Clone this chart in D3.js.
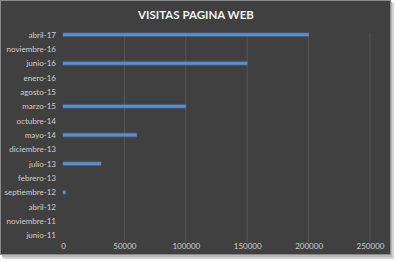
<!DOCTYPE html>
<html>
<head>
<meta charset="utf-8">
<script src="https://cdn.jsdelivr.net/npm/d3@7"></script>
<style>
  body { margin: 0; background: #fff; }
  text { font-family: Lato, "Open Sans", sans-serif; }
</style>
</head>
<body>
<div id="graphic"></div>
<script>
// categories top to bottom, as in the picture
var categories = ['abril-17', 'noviembre-16', 'junio-16', 'enero-16', 'agosto-15',
	'marzo-15', 'octubre-14', 'mayo-14', 'diciembre-13', 'julio-13', 'febrero-13',
	'septiembre-12', 'abril-12', 'noviembre-11', 'junio-11'];
var visitas = [200000, 0, 150000, 0, 0, 100000, 0, 60000, 0, 31000, 0, 2000, 0, 0, 0];
var xTicks = [0, 50000, 100000, 150000, 200000, 250000];
var title = 'VISITAS PAGINA WEB';

var width = 396, height = 262;
var margins = {top: 28, right: 26, bottom: 20, left: 63};
var chartWidth = 370 - margins.left;

var svg = d3.select('#graphic').append('svg')
	.attr('width', width)
	.attr('height', height);

// shadow + frame
svg.append('rect').attr('x', 3).attr('y', 3).attr('width', 391).attr('height', 256)
	.attr('fill', '#d4d4d4');
svg.append('rect').attr('x', 2).attr('y', 2).attr('width', 390).attr('height', 255)
	.attr('fill', '#b8b8b8');
svg.append('rect').attr('x', 0.5).attr('y', 0.5).attr('width', 390).attr('height', 254)
	.attr('fill', '#404040').attr('stroke', '#8c8c8c');

svg.append('text')
	.attr('x', 196).attr('y', 19)
	.attr('text-anchor', 'middle')
	.attr('fill', '#f2f2f2')
	.style('font-size', '11.5px')
	.style('font-weight', 'bold')
	.text(title);

var x = d3.scaleLinear().domain([0, 250000]).range([margins.left, margins.left + chartWidth]);
var y = d3.scaleBand().domain(categories).range([28, 243]);

// gridlines
svg.append('g').selectAll('line')
	.data(xTicks.slice(1)).enter()
	.append('line')
	.attr('x1', function(d) { return x(d); })
	.attr('x2', function(d) { return x(d); })
	.attr('y1', 33).attr('y2', 242)
	.attr('stroke', '#555555')
	.attr('stroke-width', 1);

// x axis labels
var xAxis = svg.append('g')
	.attr('transform', 'translate(0,240)')
	.call(d3.axisBottom(x).tickValues(xTicks).tickSize(0).tickPadding(3).tickFormat(d3.format('d')));
xAxis.select('.domain').remove();
xAxis.selectAll('text').attr('fill', '#d0d0d0').style('font-size', '8px')
	.style('font-family', 'Lato, sans-serif');

// y axis labels
var yAxis = svg.append('g')
	.attr('transform', 'translate(' + (margins.left - 7) + ',0)')
	.call(d3.axisLeft(y).tickSize(0).tickPadding(0));
yAxis.select('.domain').remove();
yAxis.selectAll('text').attr('fill', '#d0d0d0').style('font-size', '8px')
	.style('font-family', 'Lato, sans-serif');

// bars (thin, with a soft glow)
var barData = categories.map(function(c, i) { return {cat: c, v: visitas[i]}; })
	.filter(function(d) { return d.v > 0; });

var bars = svg.append('g');
bars.selectAll('rect.glow')
	.data(barData).enter()
	.append('rect')
	.attr('class', 'glow')
	.attr('x', x(0) - 0.5)
	.attr('y', function(d) { return y(d.cat) + y.bandwidth() / 2 - 3; })
	.attr('width', function(d) { return x(d.v) - x(0) + 1; })
	.attr('height', 5)
	.attr('fill', '#4f81bd')
	.attr('opacity', 0.35);
bars.selectAll('rect.bar')
	.data(barData).enter()
	.append('rect')
	.attr('class', 'bar')
	.attr('x', x(0))
	.attr('y', function(d) { return y(d.cat) + y.bandwidth() / 2 - 2; })
	.attr('width', function(d) { return x(d.v) - x(0); })
	.attr('height', 3)
	.attr('fill', '#5b8fcb');
</script>
</body>
</html>
